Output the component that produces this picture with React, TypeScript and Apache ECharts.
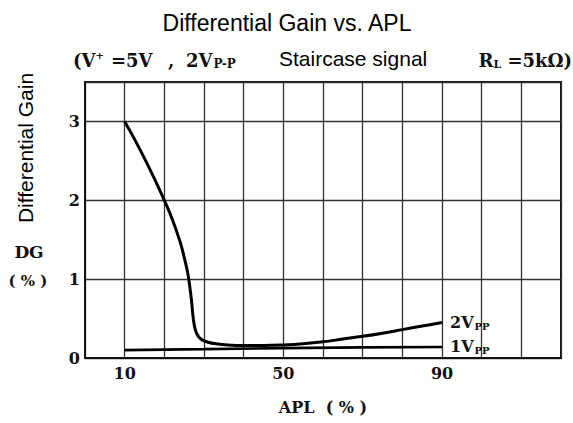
import React, { useEffect, useRef } from "react";
import * as echarts from "echarts";

const apl2 = [10, 12, 14, 16, 18, 20, 22, 24, 25, 26, 26.8, 27.3, 27.8, 28.5, 29.5, 31, 33, 36, 40, 45, 50, 55, 60, 65, 70, 75, 80, 85, 90];
const dg2 = [3.0, 2.82, 2.63, 2.43, 2.22, 2.0, 1.76, 1.47, 1.28, 1.05, 0.75, 0.5, 0.36, 0.28, 0.23, 0.2, 0.18, 0.165, 0.158, 0.158, 0.165, 0.18, 0.205, 0.24, 0.275, 0.315, 0.36, 0.405, 0.45];
const apl1 = [10, 30, 50, 70, 90];
const dg1 = [0.1, 0.112, 0.125, 0.135, 0.14];
const xLabels = [10, 50, 90];
const yLabels = [0, 1, 2, 3];

const serif = "'DejaVu Serif', 'Liberation Serif', serif";
const sans = "'Liberation Sans', Arial, sans-serif";

export default function App() {
  const ref = useRef<HTMLDivElement>(null);
  useEffect(() => {
    if (!ref.current) return;
    const chart = echarts.init(ref.current, undefined, { renderer: "svg" });
    const endRich = {
      v: { fontFamily: serif, fontWeight: "bold", fontSize: 16, color: "#111" },
      s: { fontFamily: serif, fontWeight: "bold", fontSize: 10, color: "#111", padding: [7, 0, 0, 1] },
    };
    const hdr = { fontFamily: serif, fontWeight: "bold", fontSize: 18, fill: "#111", verticalAlign: "middle" };
    chart.setOption({
      animation: false,
      backgroundColor: "#fff",
      grid: { left: 85, top: 82, width: 476, height: 276, show: true, borderColor: "#111", borderWidth: 2, backgroundColor: "transparent" },
      xAxis: {
        type: "value",
        min: 0,
        max: 120,
        interval: 10,
        name: "APL  ( % )",
        nameLocation: "middle",
        nameGap: 41,
        nameTextStyle: { fontFamily: serif, fontWeight: "bold", fontSize: 16, color: "#111" },
        axisLine: { show: true, lineStyle: { color: "#111", width: 2 } },
        axisTick: { show: false },
        axisLabel: {
          margin: 7,
          fontFamily: serif,
          fontWeight: "bold",
          fontSize: 16,
          color: "#111",
          formatter: (v: number) => (xLabels.includes(v) ? String(v) : ""),
        },
        splitLine: { show: true, lineStyle: { color: "#333", width: 1.3 } },
      },
      yAxis: {
        type: "value",
        min: 0,
        max: 3.5,
        interval: 1,
        axisLine: { show: true, lineStyle: { color: "#111", width: 2 } },
        axisTick: { show: false },
        axisLabel: {
          margin: 5,
          fontFamily: serif,
          fontWeight: "bold",
          fontSize: 16,
          color: "#111",
          showMaxLabel: false,
          formatter: (v: number) => (yLabels.includes(v) ? String(v) : ""),
        },
        splitLine: { show: true, lineStyle: { color: "#333", width: 1.3 } },
      },
      series: [
        {
          type: "line",
          data: apl2.map((x, i) => [x, dg2[i]]),
          showSymbol: false,
          smooth: 0.4,
          lineStyle: { color: "#000", width: 3 },
          endLabel: { show: true, distance: 8, formatter: "{v|2V}{s|PP}", rich: endRich },
        },
        {
          type: "line",
          data: apl1.map((x, i) => [x, dg1[i]]),
          showSymbol: false,
          lineStyle: { color: "#000", width: 2.6 },
          endLabel: { show: true, distance: 8, formatter: "{v|1V}{s|PP}", rich: endRich },
        },
      ],
      graphic: [
        {
          type: "text",
          x: 287,
          y: 23,
          style: { text: "Differential Gain vs. APL", fontFamily: sans, fontSize: 23, fill: "#000", align: "center", verticalAlign: "middle" },
        },
        {
          type: "text",
          x: 73,
          y: 60,
          style: {
            text: "{a|(V}{p|+}",
            align: "left",
            verticalAlign: "middle",
            rich: {
              a: hdr,
              p: { fontFamily: serif, fontWeight: "bold", fontSize: 10, fill: "#111", padding: [0, 0, 9, 0] },
            },
          },
        },
        { type: "text", x: 111, y: 60, style: { ...hdr, text: "=5V", align: "left" } },
        { type: "text", x: 168, y: 60, style: { ...hdr, text: ",", align: "left" } },
        {
          type: "text",
          x: 186,
          y: 60,
          style: {
            text: "{a|2V}{s|P-P}",
            align: "left",
            verticalAlign: "middle",
            rich: {
              a: hdr,
              s: { fontFamily: serif, fontWeight: "bold", fontSize: 12, fill: "#111", padding: [8, 0, 0, 1] },
            },
          },
        },
        {
          type: "text",
          x: 279,
          y: 58,
          style: { text: "Staircase signal", fontFamily: sans, fontSize: 21, fill: "#000", align: "left", verticalAlign: "middle" },
        },
        {
          type: "text",
          x: 572,
          y: 60,
          style: {
            text: "{a|R}{s|L}{a| =5kΩ)}",
            align: "right",
            verticalAlign: "middle",
            rich: {
              a: hdr,
              s: { fontFamily: serif, fontWeight: "bold", fontSize: 11, fill: "#111", padding: [8, 0, 0, 0] },
            },
          },
        },
        {
          type: "text",
          x: 25,
          y: 148,
          rotation: Math.PI / 2,
          style: { text: "Differential Gain", fontFamily: sans, fontSize: 21, fill: "#000", align: "center", verticalAlign: "middle" },
        },
        {
          type: "text",
          x: 29,
          y: 252,
          style: { text: "DG", fontFamily: serif, fontWeight: "bold", fontSize: 17, fill: "#111", align: "center", verticalAlign: "middle" },
        },
        {
          type: "text",
          x: 28,
          y: 281,
          style: { text: "( % )", fontFamily: serif, fontWeight: "bold", fontSize: 15, fill: "#111", align: "center", verticalAlign: "middle" },
        },
      ],
    });
    return () => chart.dispose();
  }, []);
  return <div ref={ref} style={{ width: 573, height: 423, position: "absolute", left: 0, top: 0 }} />;
}
